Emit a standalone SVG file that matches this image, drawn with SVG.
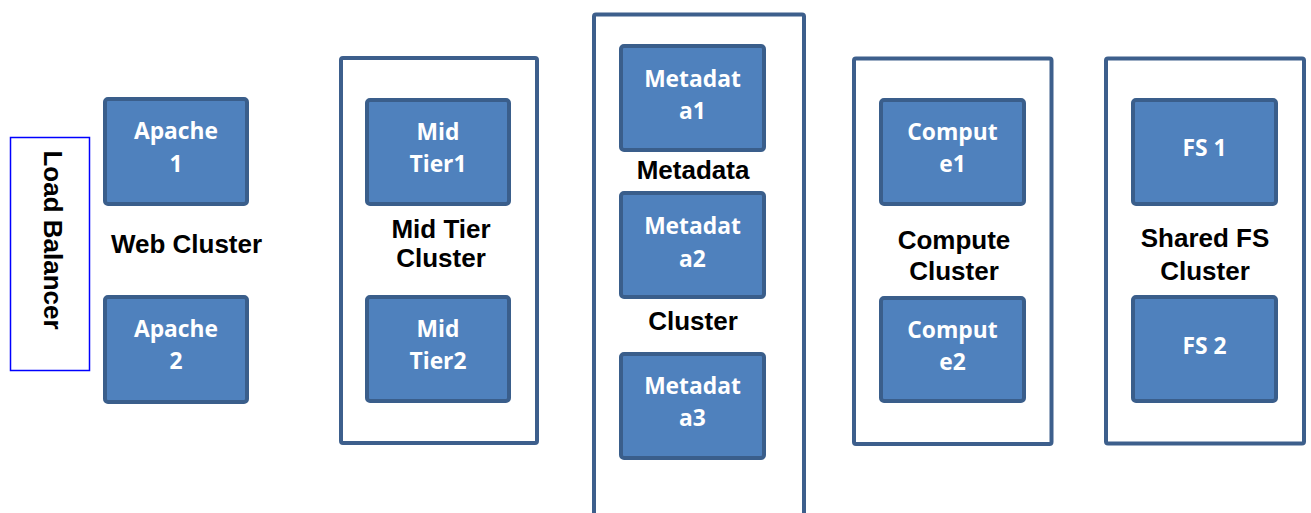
<svg xmlns="http://www.w3.org/2000/svg" width="1311" height="513" viewBox="0 0 1311 513">
<style>
.box{fill:#4f81bd;stroke:#3a5e8b;stroke-width:4}
.cl{fill:#ffffff;stroke:#3d5f8c;stroke-width:4}
.bt{font-family:"Open Sans",Lato,sans-serif;font-weight:bold;font-size:22.8px;fill:#ffffff;text-anchor:middle}
.lb{font-family:"Liberation Sans",Arial,sans-serif;font-weight:bold;font-size:26px;fill:#000000;text-anchor:middle}
</style>
<rect width="1311" height="513" fill="#ffffff"/>
<g id="connectors"/>
<g id="load-balancer">
<rect x="10.5" y="137.5" width="79" height="233" fill="#ffffff" stroke="#0000ff" stroke-width="1.5"/>
<text class="lb" transform="translate(43.5,240) rotate(90)" font-size="26.5">Load Balancer</text>
</g>
<g id="web-cluster">
<text class="lb" x="186.5" y="253">Web Cluster</text>
</g>
<g id="apache1">
<rect class="box" x="105" y="99" width="142" height="105" rx="3"/>
<text class="bt" x="176" y="139">Apache</text>
<text class="bt" x="176" y="171.5">1</text>
</g>
<g id="apache2">
<rect class="box" x="105" y="297" width="142" height="105" rx="3"/>
<text class="bt" x="176" y="336.5">Apache</text>
<text class="bt" x="176" y="369">2</text>
</g>
<g id="midtier-cluster">
<rect class="cl" x="341" y="58" width="196" height="385" rx="2"/>
<text class="lb" x="441" y="238">Mid Tier</text>
<text class="lb" x="441" y="267">Cluster</text>
</g>
<g id="midtier1">
<rect class="box" x="367" y="100" width="142" height="104" rx="3"/>
<text class="bt" x="438" y="139.5">Mid</text>
<text class="bt" x="438" y="171.5">Tier1</text>
</g>
<g id="midtier2">
<rect class="box" x="367" y="297" width="142" height="104" rx="3"/>
<text class="bt" x="438" y="336.5">Mid</text>
<text class="bt" x="438" y="369">Tier2</text>
</g>
<g id="metadata-cluster">
<rect class="cl" x="594" y="14.5" width="210" height="520" rx="2"/>
<text class="lb" x="693" y="178.5">Metadata</text>
<text class="lb" x="693" y="330">Cluster</text>
</g>
<g id="metadata1">
<rect class="box" x="621" y="46" width="143" height="104" rx="3"/>
<text class="bt" x="692.5" y="86.5">Metadat</text>
<text class="bt" x="692.5" y="118.5">a1</text>
</g>
<g id="metadata2">
<rect class="box" x="621" y="193" width="143" height="104" rx="3"/>
<text class="bt" x="692.5" y="233.5">Metadat</text>
<text class="bt" x="692.5" y="266.5">a2</text>
</g>
<g id="metadata3">
<rect class="box" x="621" y="354" width="143" height="104" rx="3"/>
<text class="bt" x="692.5" y="393.5">Metadat</text>
<text class="bt" x="692.5" y="425.5">a3</text>
</g>
<g id="compute-cluster">
<rect class="cl" x="854" y="58.5" width="197.5" height="385.5" rx="2"/>
<text class="lb" x="954" y="248.5">Compute</text>
<text class="lb" x="954" y="279.5">Cluster</text>
</g>
<g id="compute1">
<rect class="box" x="881" y="100" width="143" height="104" rx="3"/>
<text class="bt" x="952.5" y="140">Comput</text>
<text class="bt" x="952.5" y="171.5">e1</text>
</g>
<g id="compute2">
<rect class="box" x="881" y="298" width="143" height="103" rx="3"/>
<text class="bt" x="952.5" y="337.5">Comput</text>
<text class="bt" x="952.5" y="369.5">e2</text>
</g>
<g id="sharedfs-cluster">
<rect class="cl" x="1106" y="58.5" width="198" height="385" rx="2"/>
<text class="lb" x="1205" y="247">Shared FS</text>
<text class="lb" x="1205" y="279.5">Cluster</text>
</g>
<g id="fs1">
<rect class="box" x="1133" y="100" width="143" height="104" rx="3"/>
<text class="bt" x="1204.5" y="156">FS 1</text>
</g>
<g id="fs2">
<rect class="box" x="1133" y="297" width="143" height="104" rx="3"/>
<text class="bt" x="1204.5" y="353.5">FS 2</text>
</g>
</svg>
